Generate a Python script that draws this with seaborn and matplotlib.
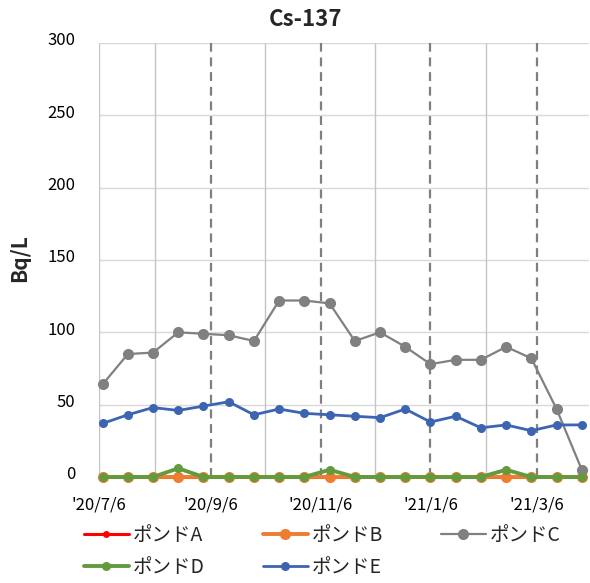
import matplotlib
matplotlib.use("Agg")
import matplotlib.pyplot as plt
import matplotlib.dates as mdates
from matplotlib.transforms import ScaledTranslation
import seaborn as sns
import pandas as pd

# ---- data ----
dates = ["2020-07-08", "2020-07-22", "2020-08-05", "2020-08-19", "2020-09-02",
         "2020-09-16", "2020-09-30", "2020-10-14", "2020-10-28", "2020-11-11",
         "2020-11-25", "2020-12-09", "2020-12-23", "2021-01-06", "2021-01-20",
         "2021-02-03", "2021-02-17", "2021-03-03", "2021-03-17", "2021-03-31"]
pond_a = [0, 0, 0, 0, 0, 0, 0, 0, 0, 0, 0, 0, 0, 0, 0, 0, 0, 0, 0, 0]
pond_b = [0, 0, 0, 0, 0, 0, 0, 0, 0, 0, 0, 0, 0, 0, 0, 0, 0, 0, 0, 0]
pond_c = [64, 85, 86, 100, 99, 98, 94, 122, 122, 120, 94, 100, 90, 78, 81, 81, 90, 82, 47, 5]
pond_d = [0, 0, 0, 6, 0, 0, 0, 0, 0, 5, 0, 0, 0, 0, 0, 0, 5, 0, 0, 0]
pond_e = [37, 43, 48, 46, 49, 52, 43, 47, 44, 43, 42, 41, 47, 38, 42, 34, 36, 32, 36, 36]
series_names = ["ポンドA", "ポンドB", "ポンドC", "ポンドD", "ポンドE"]
tick_dates = ["2020-07-06", "2020-09-06", "2020-11-06", "2021-01-06", "2021-03-06"]
tick_labels = ["'20/7/6", "'20/9/6", "'20/11/6", "'21/1/6", "'21/3/6"]
minor_grid_dates = ["2020-07-06", "2020-08-06", "2020-10-06", "2020-12-06", "2021-02-06"]
dashed_dates = ["2020-09-06", "2020-11-06", "2021-01-06", "2021-03-06"]
y_ticks = [0, 50, 100, 150, 200, 250, 300]

# ---- styling ----
sns.set_theme(style="white")
plt.rcParams["font.family"] = ["Noto Sans CJK JP", "DejaVu Sans"]

W, H = 590, 583
fig = plt.figure(figsize=(W / 100, H / 100), dpi=100)
ax = fig.add_axes([99 / W, 1 - 477 / H, (589 - 99) / W, (477 - 43) / H])

x = pd.to_datetime(dates)
values = [pond_a, pond_b, pond_c, pond_d, pond_e]
colors = ["#FF0000", "#ED7D31", "#808080", "#629B3D", "#3C64B2"]
msizes = [5, 8, 8, 6.5, 6.5]
lws = [2.2, 2.8, 1.6, 2.8, 2.0]

# gridlines
for yv in y_ticks[1:]:
    ax.axhline(yv, color="#D9D9D9", lw=1.0, zorder=0)
for d in minor_grid_dates:
    ax.axvline(pd.Timestamp(d), color="#C4C4C4", lw=1.0, zorder=0)
for d in dashed_dates:
    ax.axvline(pd.Timestamp(d), color="#7F7F7F", lw=1.6, ls=(0, (4, 2.6)), zorder=1)

handles = []
for i, (name, vals) in enumerate(zip(series_names, values)):
    df = pd.DataFrame({"date": x, "value": vals})
    sns.lineplot(data=df, x="date", y="value", ax=ax, color=colors[i],
                 marker="o", markersize=msizes[i], markeredgewidth=0,
                 linewidth=lws[i], label=name, zorder=3 + i, clip_on=False)
    handles.append(ax.get_lines()[-1])

ax.set_ylim(0, 300)
ax.set_xlim(pd.Timestamp("2020-07-06"), pd.Timestamp("2021-04-04"))
ax.set_yticks(y_ticks)
ax.set_xticks(pd.to_datetime(tick_dates))
ax.set_xticklabels(tick_labels)
ax.tick_params(axis="both", length=0, labelsize=12, colors="#000000")
ax.tick_params(axis="y", pad=17)
ax.tick_params(axis="x", pad=14)
for lab in ax.get_yticklabels():
    lab.set_transform(lab.get_transform() + ScaledTranslation(0, 3 / 72, fig.dpi_scale_trans))
for s in ax.spines.values():
    s.set_visible(False)
ax.set_xlabel("")
ax.set_ylabel("")

fig.text(20 / W, 1 - 258 / H, "Bq/L", rotation=90, ha="center", va="center",
         fontsize=15, fontweight="bold")
fig.text(306 / W, 1 - 19 / H, "Cs-137", ha="center", va="center",
         fontsize=16, fontweight="bold")

order = [0, 3, 1, 4, 2]
leg = ax.legend([handles[k] for k in order], [series_names[k] for k in order],
                ncol=3, frameon=False, loc="upper left",
                bbox_to_anchor=(84 / W, 1 - 525 / H), bbox_transform=fig.transFigure,
                fontsize=14, handlelength=2.3, handletextpad=0.2,
                columnspacing=3.0, labelspacing=0.55, borderpad=0, borderaxespad=0)

fig.savefig("out.png", dpi=100)
